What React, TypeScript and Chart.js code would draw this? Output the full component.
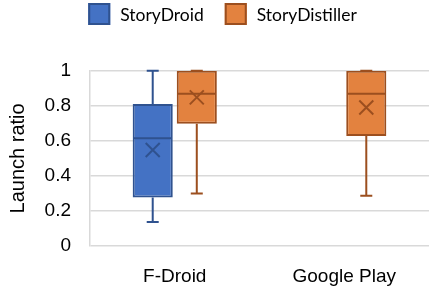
import React, { useEffect, useRef } from 'react';
import { Chart, registerables } from 'chart.js';

Chart.register(...registerables);

const categories = ['F-Droid', 'Google Play'];
const seriesNames = ['StoryDroid', 'StoryDistiller'];

// StoryDroid box statistics
const droidMin = [0.137, null];
const droidQ1 = [0.276, null];
const droidMedian = [0.614, null];
const droidQ3 = [0.81, null];
const droidMax = [1.0, null];
const droidMean = [0.548, null];

// StoryDistiller box statistics
const distMin = [0.3, 0.287];
const distQ1 = [0.698, 0.627];
const distMedian = [0.869, 0.869];
const distQ3 = [1.0, 1.0];
const distMax = [1.0, 1.0];
const distMean = [0.848, 0.79];

const yTicks = [0, 0.2, 0.4, 0.6, 0.8, 1];
const yTickLabels = ['0', '0.2', '0.4', '0.6', '0.8', '1'];

const blueFill = '#4472C4';
const blueLine = '#2F528F';
const orangeFill = '#E3823F';
const orangeLine = '#9C4F1F';

const stats = [
  { min: droidMin, q1: droidQ1, med: droidMedian, q3: droidQ3, max: droidMax, mean: droidMean },
  { min: distMin, q1: distQ1, med: distMedian, q3: distQ3, max: distMax, mean: distMean },
];

const boxPlugin = {
  id: 'boxExtras',
  afterDatasetsDraw(chart: any) {
    const ctx = chart.ctx;
    const y = chart.scales.y;
    chart.data.datasets.forEach((ds: any, i: number) => {
      const meta = chart.getDatasetMeta(i);
      const s = stats[i];
      meta.data.forEach((el: any, j: number) => {
        if (s.q1[j] == null) return;
        const x = el.x;
        const w = el.width;
        ctx.save();
        ctx.strokeStyle = ds.borderColor;
        ctx.lineWidth = 2;
        ctx.lineCap = 'butt';
        const cap = 6;
        ctx.beginPath();
        ctx.moveTo(x, y.getPixelForValue(s.q3[j]));
        ctx.lineTo(x, y.getPixelForValue(s.max[j]));
        ctx.moveTo(x - cap, y.getPixelForValue(s.max[j]));
        ctx.lineTo(x + cap, y.getPixelForValue(s.max[j]));
        ctx.moveTo(x, y.getPixelForValue(s.q1[j]));
        ctx.lineTo(x, y.getPixelForValue(s.min[j]));
        ctx.moveTo(x - cap, y.getPixelForValue(s.min[j]));
        ctx.lineTo(x + cap, y.getPixelForValue(s.min[j]));
        ctx.moveTo(x - w / 2 + 1, y.getPixelForValue(s.med[j]));
        ctx.lineTo(x + w / 2 - 1, y.getPixelForValue(s.med[j]));
        ctx.stroke();
        const my = y.getPixelForValue(s.mean[j]);
        const m = 7;
        ctx.beginPath();
        ctx.moveTo(x - m, my - m);
        ctx.lineTo(x + m, my + m);
        ctx.moveTo(x + m, my - m);
        ctx.lineTo(x - m, my + m);
        ctx.stroke();
        ctx.restore();
      });
    });
  },
};

const legendPlugin = {
  id: 'boxLegend',
  afterDraw(chart: any) {
    const ctx = chart.ctx;
    ctx.save();
    ctx.font = '17.5px Lato';
    ctx.textBaseline = 'middle';
    ctx.textAlign = 'left';
    const box = 22;
    const gap = 10;
    const spacing = 21;
    const items = chart.data.datasets.map((ds: any) => ({
      text: ds.label,
      fill: ds.backgroundColor,
      stroke: ds.borderColor,
      w: ctx.measureText(ds.label).width,
    }));
    const total =
      items.reduce((acc: number, it: any) => acc + box + gap + it.w, 0) + spacing * (items.length - 1);
    let x = chart.width / 2 + 8 - total / 2;
    const cy = 14;
    items.forEach((it: any) => {
      ctx.fillStyle = it.fill;
      ctx.fillRect(x, cy - box / 2, box, box);
      ctx.strokeStyle = it.stroke;
      ctx.lineWidth = 2;
      ctx.strokeRect(x + 1, cy - box / 2 + 1, box - 2, box - 2);
      ctx.fillStyle = '#000';
      ctx.fillText(it.text, x + box + gap, cy + 1);
      x += box + gap + it.w + spacing;
    });
    ctx.restore();
  },
};

export default function App() {
  const ref = useRef<HTMLCanvasElement | null>(null);
  useEffect(() => {
    if (!ref.current) return;
    const chart = new Chart(ref.current, {
      type: 'bar',
      data: {
        labels: categories,
        datasets: [
          {
            label: seriesNames[0],
            data: droidQ1.map((q, i) => (q == null ? null : [q, droidQ3[i] as number])) as any,
            backgroundColor: blueFill,
            borderColor: blueLine,
            borderWidth: 2,
            borderSkipped: false,
            categoryPercentage: 0.52,
            barPercentage: 0.91,
          },
          {
            label: seriesNames[1],
            data: distQ1.map((q, i) => (q == null ? null : [q, distQ3[i] as number])) as any,
            backgroundColor: orangeFill,
            borderColor: orangeLine,
            borderWidth: 2,
            borderSkipped: false,
            categoryPercentage: 0.52,
            barPercentage: 0.91,
          },
        ],
      },
      options: {
        animation: false,
        responsive: true,
        maintainAspectRatio: false,
        layout: { padding: { top: 70.7, right: 0, left: 0, bottom: 0 } },
        plugins: {
          legend: { display: false },
          tooltip: { enabled: false },
          title: { display: false },
        },
        scales: {
          x: {
            grid: { display: false },
            border: { display: false },
            ticks: {
              color: '#000',
              padding: 11,
              font: { family: 'Liberation Sans', size: 19 },
            },
            afterFit: (s: any) => {
              s.height = 45;
            },
          },
          y: {
            min: 0,
            max: 1,
            afterBuildTicks: (s: any) => {
              s.ticks = yTicks.map((v) => ({ value: v }));
            },
            grid: { color: '#D9D9D9', lineWidth: 1.5, drawTicks: false },
            border: { display: true, color: '#D9D9D9', width: 1.5 },
            ticks: {
              color: '#000',
              padding: 19,
              font: { family: 'Liberation Sans', size: 19 },
              callback: (_v: any, idx: number) => yTickLabels[idx],
            },
            title: {
              display: true,
              text: 'Launch ratio',
              color: '#000',
              font: { family: 'Liberation Sans', size: 20 },
              padding: { top: 6, bottom: 0 },
            },
            afterFit: (s: any) => {
              s.width = 90;
            },
          },
        },
      },
      plugins: [boxPlugin, legendPlugin],
    });
    return () => chart.destroy();
  }, []);
  return (
    <div style={{ position: 'absolute', left: 0, top: 0, width: 429, height: 291 }}>
      <canvas ref={ref} />
    </div>
  );
}
